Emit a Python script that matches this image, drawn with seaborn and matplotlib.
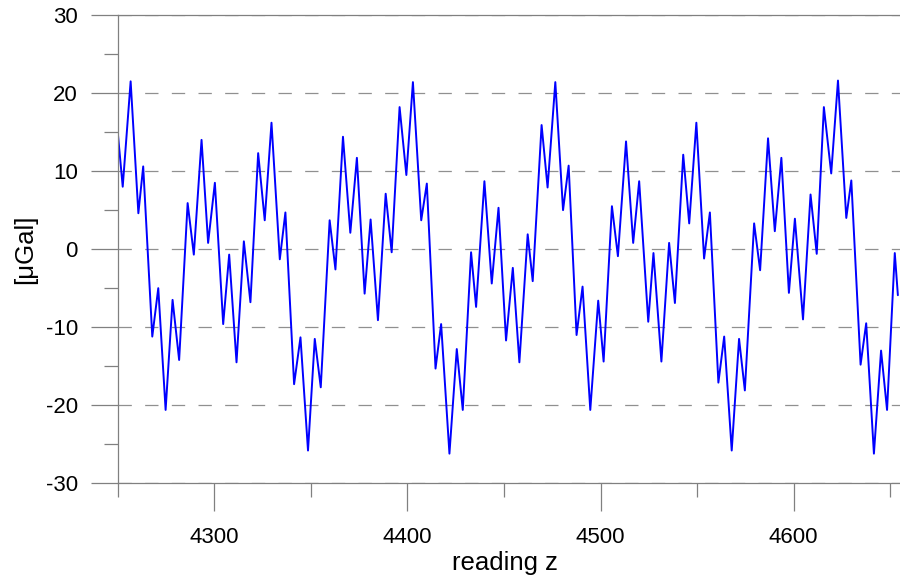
import matplotlib
matplotlib.use("Agg")
import matplotlib.pyplot as plt
from matplotlib.ticker import MultipleLocator
import seaborn as sns
import pandas as pd

# readings (x) and values (y) (local extrema)
reading = [4249.6, 4252.7, 4256.8, 4260.8, 4263.3, 4268.0, 4271.1, 4274.9, 4278.5, 4281.9, 4286.3, 4289.5, 4293.5,
           4296.9, 4300.4, 4304.7, 4307.8, 4311.6, 4315.4, 4318.8, 4322.8, 4326.2, 4329.7, 4334.0, 4336.9,
           4341.4, 4344.7, 4348.6, 4352.1, 4355.2, 4359.8, 4362.8, 4366.7, 4370.5, 4373.9, 4377.9, 4381.0, 4384.8,
           4388.8, 4391.9, 4396.0, 4399.5, 4402.9, 4407.2, 4410.1, 4414.6, 4417.5, 4421.8, 4425.6, 4428.7, 4433.0,
           4435.6, 4439.9, 4443.7, 4447.2, 4451.1, 4454.6, 4458.0, 4462.3, 4464.9, 4469.5, 4472.6, 4476.6, 4480.6,
           4483.5, 4487.6, 4490.7, 4494.7, 4498.8, 4501.6, 4505.9, 4509.0, 4513.2, 4516.9, 4520.0, 4524.7,
           4527.4, 4531.5, 4535.5, 4538.5, 4542.8, 4545.9, 4549.6, 4553.6, 4556.6, 4561.0, 4564.0, 4567.9, 4571.7,
           4574.7, 4579.5, 4582.6, 4586.7, 4590.2, 4593.6, 4597.5, 4600.6, 4604.8, 4608.7, 4611.9, 4615.6, 4619.4,
           4622.9, 4627.2, 4629.8, 4634.6, 4637.5, 4641.5, 4645.2, 4648.3, 4652.3, 4653.9]
ugal = [16.4, 8.0, 21.5, 4.6, 10.6, -11.2, -5.0, -20.6, -6.5, -14.2, 5.9, -0.7, 14.0,
        0.8, 8.5, -9.6, -0.7, -14.5, 1.0, -6.8, 12.3, 3.7, 16.2, -1.3, 4.7,
        -17.3, -11.3, -25.8, -11.5, -17.7, 3.7, -2.6, 14.4, 2.1, 11.7, -5.7, 3.8, -9.1,
        7.1, -0.4, 18.2, 9.5, 21.4, 3.7, 8.4, -15.3, -9.6, -26.2, -12.8, -20.6, -0.4,
        -7.4, 8.7, -4.4, 5.3, -11.7, -2.4, -14.5, 1.9, -4.1, 15.9, 7.9, 21.4, 5.0,
        10.7, -11.0, -4.8, -20.6, -6.6, -14.4, 5.5, -0.9, 13.8, 0.8, 8.7, -9.3,
        -0.5, -14.4, 0.8, -6.9, 12.1, 3.3, 16.2, -1.2, 4.7, -17.1, -11.2, -25.8, -11.5,
        -18.1, 3.3, -2.7, 14.2, 2.3, 11.7, -5.6, 3.9, -9.0, 7.0, -0.6, 18.2, 9.7,
        21.6, 4.0, 8.8, -14.8, -9.5, -26.2, -13.0, -20.6, -0.5, -5.9]

x_ticks = [4300, 4400, 4500, 4600]
y_ticks = [-30, -20, -10, 0, 10, 20, 30]

df = pd.DataFrame({"reading z": reading, "uGal": ugal})

sns.set_theme(style="white")
plt.rcParams["font.family"] = ["Liberation Sans", "DejaVu Sans"]
plt.rcParams["lines.scale_dashes"] = False
plt.rcParams["axes.unicode_minus"] = False
plt.rcParams["text.color"] = "black"

W, H = 900, 578
fig = plt.figure(figsize=(W / 100, H / 100), dpi=100)
ax = fig.add_axes([117.5 / W, 1 - 483.3 / H, 1 - 117.5 / W, (483.3 - 15) / H])

sns.lineplot(data=df, x="reading z", y="uGal", ax=ax, color="#0000FF",
             linewidth=1.4, sort=False, estimator=None)

ax.set_xlim(4250, 4655)
ax.set_ylim(-30, 30)
ax.set_xticks(x_ticks)
ax.set_yticks(y_ticks)
ax.xaxis.set_minor_locator(MultipleLocator(50))
ax.yaxis.set_minor_locator(MultipleLocator(5))

gray = "#808080"
for s in ["left", "top", "bottom"]:
    ax.spines[s].set_visible(True)
    ax.spines[s].set_color(gray)
    ax.spines[s].set_linewidth(0.9)
ax.spines["right"].set_visible(False)

ax.tick_params(axis="y", which="major", direction="out", length=19.5, width=0.9,
               color=gray, labelsize=16, pad=9, left=True, labelcolor="black")
ax.tick_params(axis="y", which="minor", direction="out", length=9.8, width=0.9,
               color=gray, left=True)
ax.tick_params(axis="x", which="major", direction="out", length=19.8, width=0.9,
               color=gray, labelsize=16, pad=12, bottom=True, labelcolor="black")
ax.tick_params(axis="x", which="minor", direction="out", length=9.8, width=0.9,
               color=gray, bottom=True)

ax.yaxis.grid(True, which="major", color="#909090", linewidth=0.9,
              linestyle=(0, (9.6, 9.6)))
ax.xaxis.grid(False)
ax.set_axisbelow(True)

ax.set_xlabel("")
ax.set_ylabel("")
fig.text(505 / W, 1 - 563 / H, "reading z", ha="center", va="center",
         fontsize=18.5, color="black")
fig.text(25 / W, 1 - 249 / H, "[\u03bcGal]", ha="center", va="center",
         fontsize=18.5, rotation=90, color="black")

fig.savefig("out.png", dpi=100)
